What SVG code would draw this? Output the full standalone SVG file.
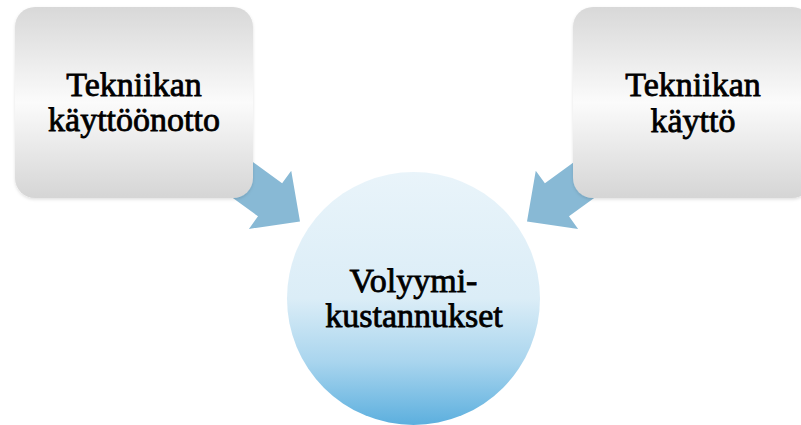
<svg xmlns="http://www.w3.org/2000/svg" width="801" height="425" viewBox="0 0 801 425">
  <defs>
    <linearGradient id="boxFill" x1="0" y1="0" x2="0" y2="1">
      <stop offset="0" stop-color="#d8d8d8"/>
      <stop offset="0.5" stop-color="#fbfbfb"/>
      <stop offset="1" stop-color="#d5d5d5"/>
    </linearGradient>
    <linearGradient id="circleFill" x1="0" y1="0" x2="0" y2="1">
      <stop offset="0" stop-color="#e9f4fa"/>
      <stop offset="0.5" stop-color="#dbedf7"/>
      <stop offset="0.75" stop-color="#a9d5ee"/>
      <stop offset="1" stop-color="#5cafde"/>
    </linearGradient>
    <linearGradient id="arrowFill" gradientUnits="userSpaceOnUse" x1="0" y1="160" x2="0" y2="230">
      <stop offset="0" stop-color="#88b9d5"/>
      <stop offset="1" stop-color="#6698b7"/>
    </linearGradient>
    <filter id="soft" x="-10%" y="-10%" width="120%" height="120%">
      <feDropShadow dx="0" dy="1.5" stdDeviation="1.5" flood-color="#000" flood-opacity="0.12"/>
    </filter>
  </defs>
  <style>
    .box { fill: url(#boxFill); filter: url(#soft); }
    .arrow { fill: url(#arrowFill); }
    .label { font-size: 34px; fill: #000; stroke: #000; stroke-width: 0.8; text-anchor: middle; }
  </style>

  <!-- block arrows, tucked behind the boxes -->
  <g id="connectors">
    <path class="arrow" transform="translate(300,221.5) rotate(36)" d="M0,0 L-37,-36 L-37,-20.5 L-150,-20.5 L-150,20.5 L-37,20.5 L-37,36 Z"/>
    <path class="arrow" transform="translate(527,221.5) rotate(144)" d="M0,0 L-37,-36 L-37,-20.5 L-150,-20.5 L-150,20.5 L-37,20.5 L-37,36 Z"/>
  </g>

  <g font-family="'Liberation Serif', 'Times New Roman', serif">
    <g id="node-kayttoonotto">
      <rect class="box" x="15" y="7" width="238" height="191" rx="20" ry="20"/>
      <text class="label" x="134" y="96">Tekniikan</text>
      <text class="label" x="134" y="131">käyttöönotto</text>
    </g>

    <g id="node-kaytto">
      <rect class="box" x="573" y="7" width="239" height="191" rx="20" ry="20"/>
      <text class="label" x="693" y="96">Tekniikan</text>
      <text class="label" x="693" y="132">käyttö</text>
    </g>

    <g id="node-volyymikustannukset">
      <circle cx="413.5" cy="298.5" r="126.5" fill="url(#circleFill)"/>
      <text class="label" x="413.5" y="292">Volyymi-</text>
      <text class="label" x="414" y="327">kustannukset</text>
    </g>
  </g>
</svg>
